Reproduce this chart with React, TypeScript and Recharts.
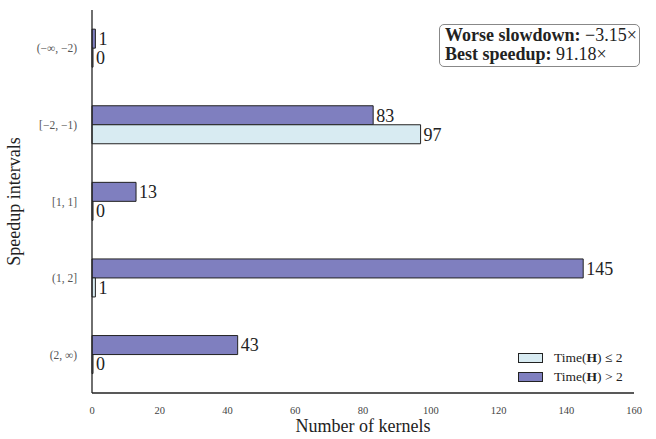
import React from 'react';
import { BarChart, Bar, XAxis, YAxis, LabelList } from 'recharts';

const categories = ['(−∞, −2)', '[−2, −1)', '[1, 1]', '(1, 2]', '(2, ∞)'];
const timeLe2 = [0, 97, 0, 1, 0];
const timeGt2 = [1, 83, 13, 145, 43];
const xTicks = [0, 20, 40, 60, 80, 100, 120, 140, 160];

const data = categories.map((c, i) => ({ cat: c, le2: timeLe2[i], gt2: timeGt2[i] }));

const SERIF = '"Liberation Serif", "DejaVu Serif", serif';
const PURPLE = '#7f7fbf';
const LIGHT = '#d8ebf2';
const EDGE = '#222';

export default function App() {
  return (
    <div style={{ position: 'absolute', left: 0, top: 0, width: 656, height: 439, fontFamily: SERIF, background: '#fff' }}>
      <BarChart
        width={656}
        height={439}
        data={data}
        layout="vertical"
        margin={{ top: 10, right: 22, bottom: 0, left: 0 }}
        barCategoryGap="25%"
        barGap={0}
      >
        <XAxis
          type="number"
          domain={[0, 160]}
          ticks={xTicks}
          height={46}
          tickLine={false}
          axisLine={{ stroke: '#222', strokeWidth: 1.3 }}
          tick={{ fontSize: 10.5, fill: '#444', fontFamily: SERIF }}
          tickMargin={8}
          label={{ value: 'Number of kernels', position: 'insideBottom', offset: 7, fontSize: 18, fill: '#222', fontFamily: SERIF }}
        />
        <YAxis
          type="category"
          dataKey="cat"
          width={92}
          tickLine={false}
          axisLine={{ stroke: '#222', strokeWidth: 1.3 }}
          tick={{ fontSize: 11.5, fill: '#555', fontFamily: SERIF }}
          tickMargin={9}
          label={{ value: 'Speedup intervals', angle: -90, position: 'insideLeft', offset: 14, fontSize: 18, fill: '#222', fontFamily: SERIF, style: { textAnchor: 'middle' } }}
        />
        <Bar dataKey="gt2" fill={PURPLE} stroke={EDGE} strokeWidth={1} minPointSize={1} isAnimationActive={false}>
          <LabelList dataKey="gt2" position="right" offset={3} style={{ fontSize: 18, fill: '#222', fontFamily: SERIF }} />
        </Bar>
        <Bar dataKey="le2" fill={LIGHT} stroke={EDGE} strokeWidth={1} minPointSize={1} isAnimationActive={false}>
          <LabelList dataKey="le2" position="right" offset={3} style={{ fontSize: 18, fill: '#222', fontFamily: SERIF }} />
        </Bar>
      </BarChart>

      <div style={{ position: 'absolute', left: 439, top: 24, width: 201, height: 43, border: '1px solid #888', borderRadius: 5, boxSizing: 'border-box', padding: '1px 0 0 5px', fontSize: 18, lineHeight: '19px', color: '#222', whiteSpace: 'nowrap' }}>
        <div><b>Worse slowdown:</b> −3.15×</div>
        <div><b>Best speedup:</b> 91.18×</div>
      </div>

      <div style={{ position: 'absolute', left: 518, top: 348, fontSize: 13.5, color: '#222', lineHeight: '19px', whiteSpace: 'nowrap' }}>
        <div style={{ display: 'flex', alignItems: 'center' }}>
          <span style={{ display: 'inline-block', width: 23, height: 8, background: LIGHT, border: '1px solid #222', marginRight: 11 }} />
          <span>Time(<b>H</b>) ≤ 2</span>
        </div>
        <div style={{ display: 'flex', alignItems: 'center' }}>
          <span style={{ display: 'inline-block', width: 23, height: 8, background: PURPLE, border: '1px solid #222', marginRight: 11 }} />
          <span>Time(<b>H</b>) &gt; 2</span>
        </div>
      </div>
    </div>
  );
}
